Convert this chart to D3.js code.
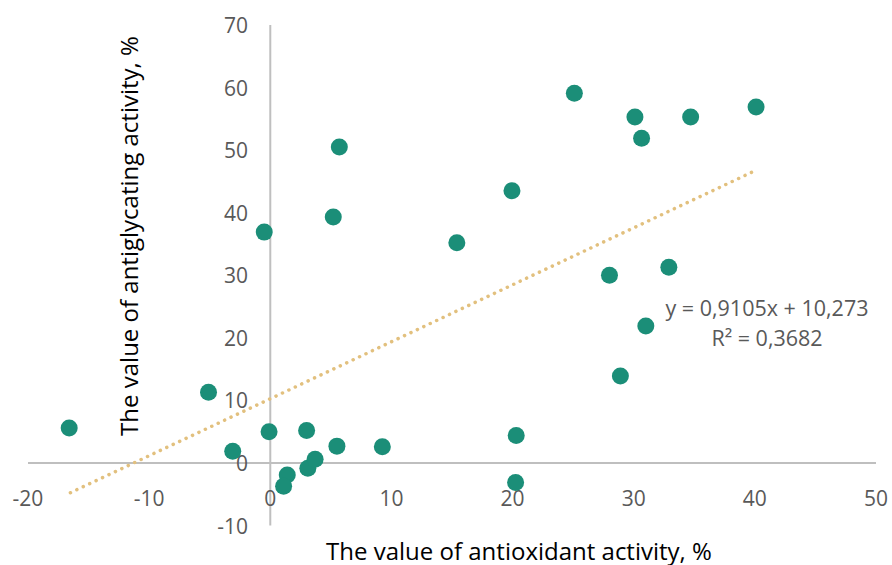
<!DOCTYPE html>
<html>
<head>
<meta charset="utf-8">
<script src="https://cdn.jsdelivr.net/npm/d3@7"></script>
<style>
  body { margin: 0; background: #fff; }
  text { font-family: "Open Sans", sans-serif; }
</style>
</head>
<body>
<div id="chart"></div>
<script>
// antioxidant activity (x), antiglycating activity (y), %
const antioxidant = [-16.6, -5.1, -3.1, -0.5, -0.1, 1.4, 1.1, 3.0, 3.1, 3.7, 5.5, 9.25,
  5.7, 5.2, 15.4, 19.95, 20.3, 20.25, 25.1, 30.1, 30.65, 34.7, 40.1, 28.0, 32.9, 31.0, 28.9];
const antiglycating = [5.6, 11.3, 1.9, 36.9, 5.0, -1.9, -3.7, 5.2, -0.85, 0.6, 2.7, 2.6,
  50.5, 39.3, 35.2, 43.5, 4.4, -3.1, 59.1, 55.3, 51.9, 55.3, 56.9, 30.0, 31.3, 21.9, 13.9];
const xTicks = [-20, -10, 0, 10, 20, 30, 40, 50];
const yTicks = [-10, 0, 10, 20, 30, 40, 50, 60, 70];
const slope = 0.9105, intercept = 10.273;
const trendRange = [-16.5, 40.1];
const eqLines = ["y = 0,9105x + 10,273", "R² = 0,3682"];

const width = 892, height = 565;
const svg = d3.select("#chart").append("svg")
  .attr("width", width).attr("height", height);

const x = d3.scaleLinear().domain([-20, 50]).range([28, 876]);
const y = d3.scaleLinear().domain([-10, 70]).range([525.6, 25]);

const fmt = d => String(d);

// Axis lines through zero
svg.append("line")
  .attr("x1", x(-20)).attr("x2", x(50))
  .attr("y1", y(0)).attr("y2", y(0))
  .attr("stroke", "#bfbfbf").attr("stroke-width", 2);
svg.append("line")
  .attr("x1", x(0)).attr("x2", x(0))
  .attr("y1", y(70)).attr("y2", y(-10))
  .attr("stroke", "#bfbfbf").attr("stroke-width", 2);

// Tick labels
svg.append("g").selectAll("text").data(xTicks).join("text")
  .attr("x", d => x(d)).attr("y", 498)
  .attr("text-anchor", "middle").attr("dominant-baseline", "central")
  .attr("font-size", 21).attr("fill", "#595959")
  .text(fmt);
svg.append("g").selectAll("text").data(yTicks).join("text")
  .attr("x", 248).attr("y", d => y(d))
  .attr("text-anchor", "end").attr("dominant-baseline", "central")
  .attr("font-size", 21).attr("fill", "#595959")
  .text(fmt);

// Trend line
const line = d3.line().x(d => x(d)).y(d => y(slope * d + intercept));
svg.append("path")
  .datum(trendRange)
  .attr("d", line)
  .attr("fill", "none")
  .attr("stroke", "#e2c07e")
  .attr("stroke-width", 3.5)
  .attr("stroke-linecap", "round")
  .attr("stroke-dasharray", "0.1 7");

// Points
svg.append("g").selectAll("circle").data(antioxidant).join("circle")
  .attr("cx", d => x(d))
  .attr("cy", (d, i) => y(antiglycating[i]))
  .attr("r", 8.5)
  .attr("fill", "#1b8e78");

// Equation
svg.append("g").selectAll("text").data(eqLines).join("text")
  .attr("x", 767).attr("y", (d, i) => 307 + i * 30)
  .attr("text-anchor", "middle").attr("dominant-baseline", "central")
  .attr("font-size", 21.5).attr("fill", "#595959")
  .text(d => d);

// Axis titles
svg.append("text")
  .attr("x", 519).attr("y", 550)
  .attr("text-anchor", "middle").attr("dominant-baseline", "central")
  .attr("font-size", 24).attr("fill", "#000")
  .text("The value of antioxidant activity, %");
svg.append("text")
  .attr("transform", "translate(128,236) rotate(-90)")
  .attr("text-anchor", "middle").attr("dominant-baseline", "central")
  .attr("font-size", 24).attr("fill", "#000")
  .text("The value of antiglycating activity, %");
</script>
</body>
</html>
